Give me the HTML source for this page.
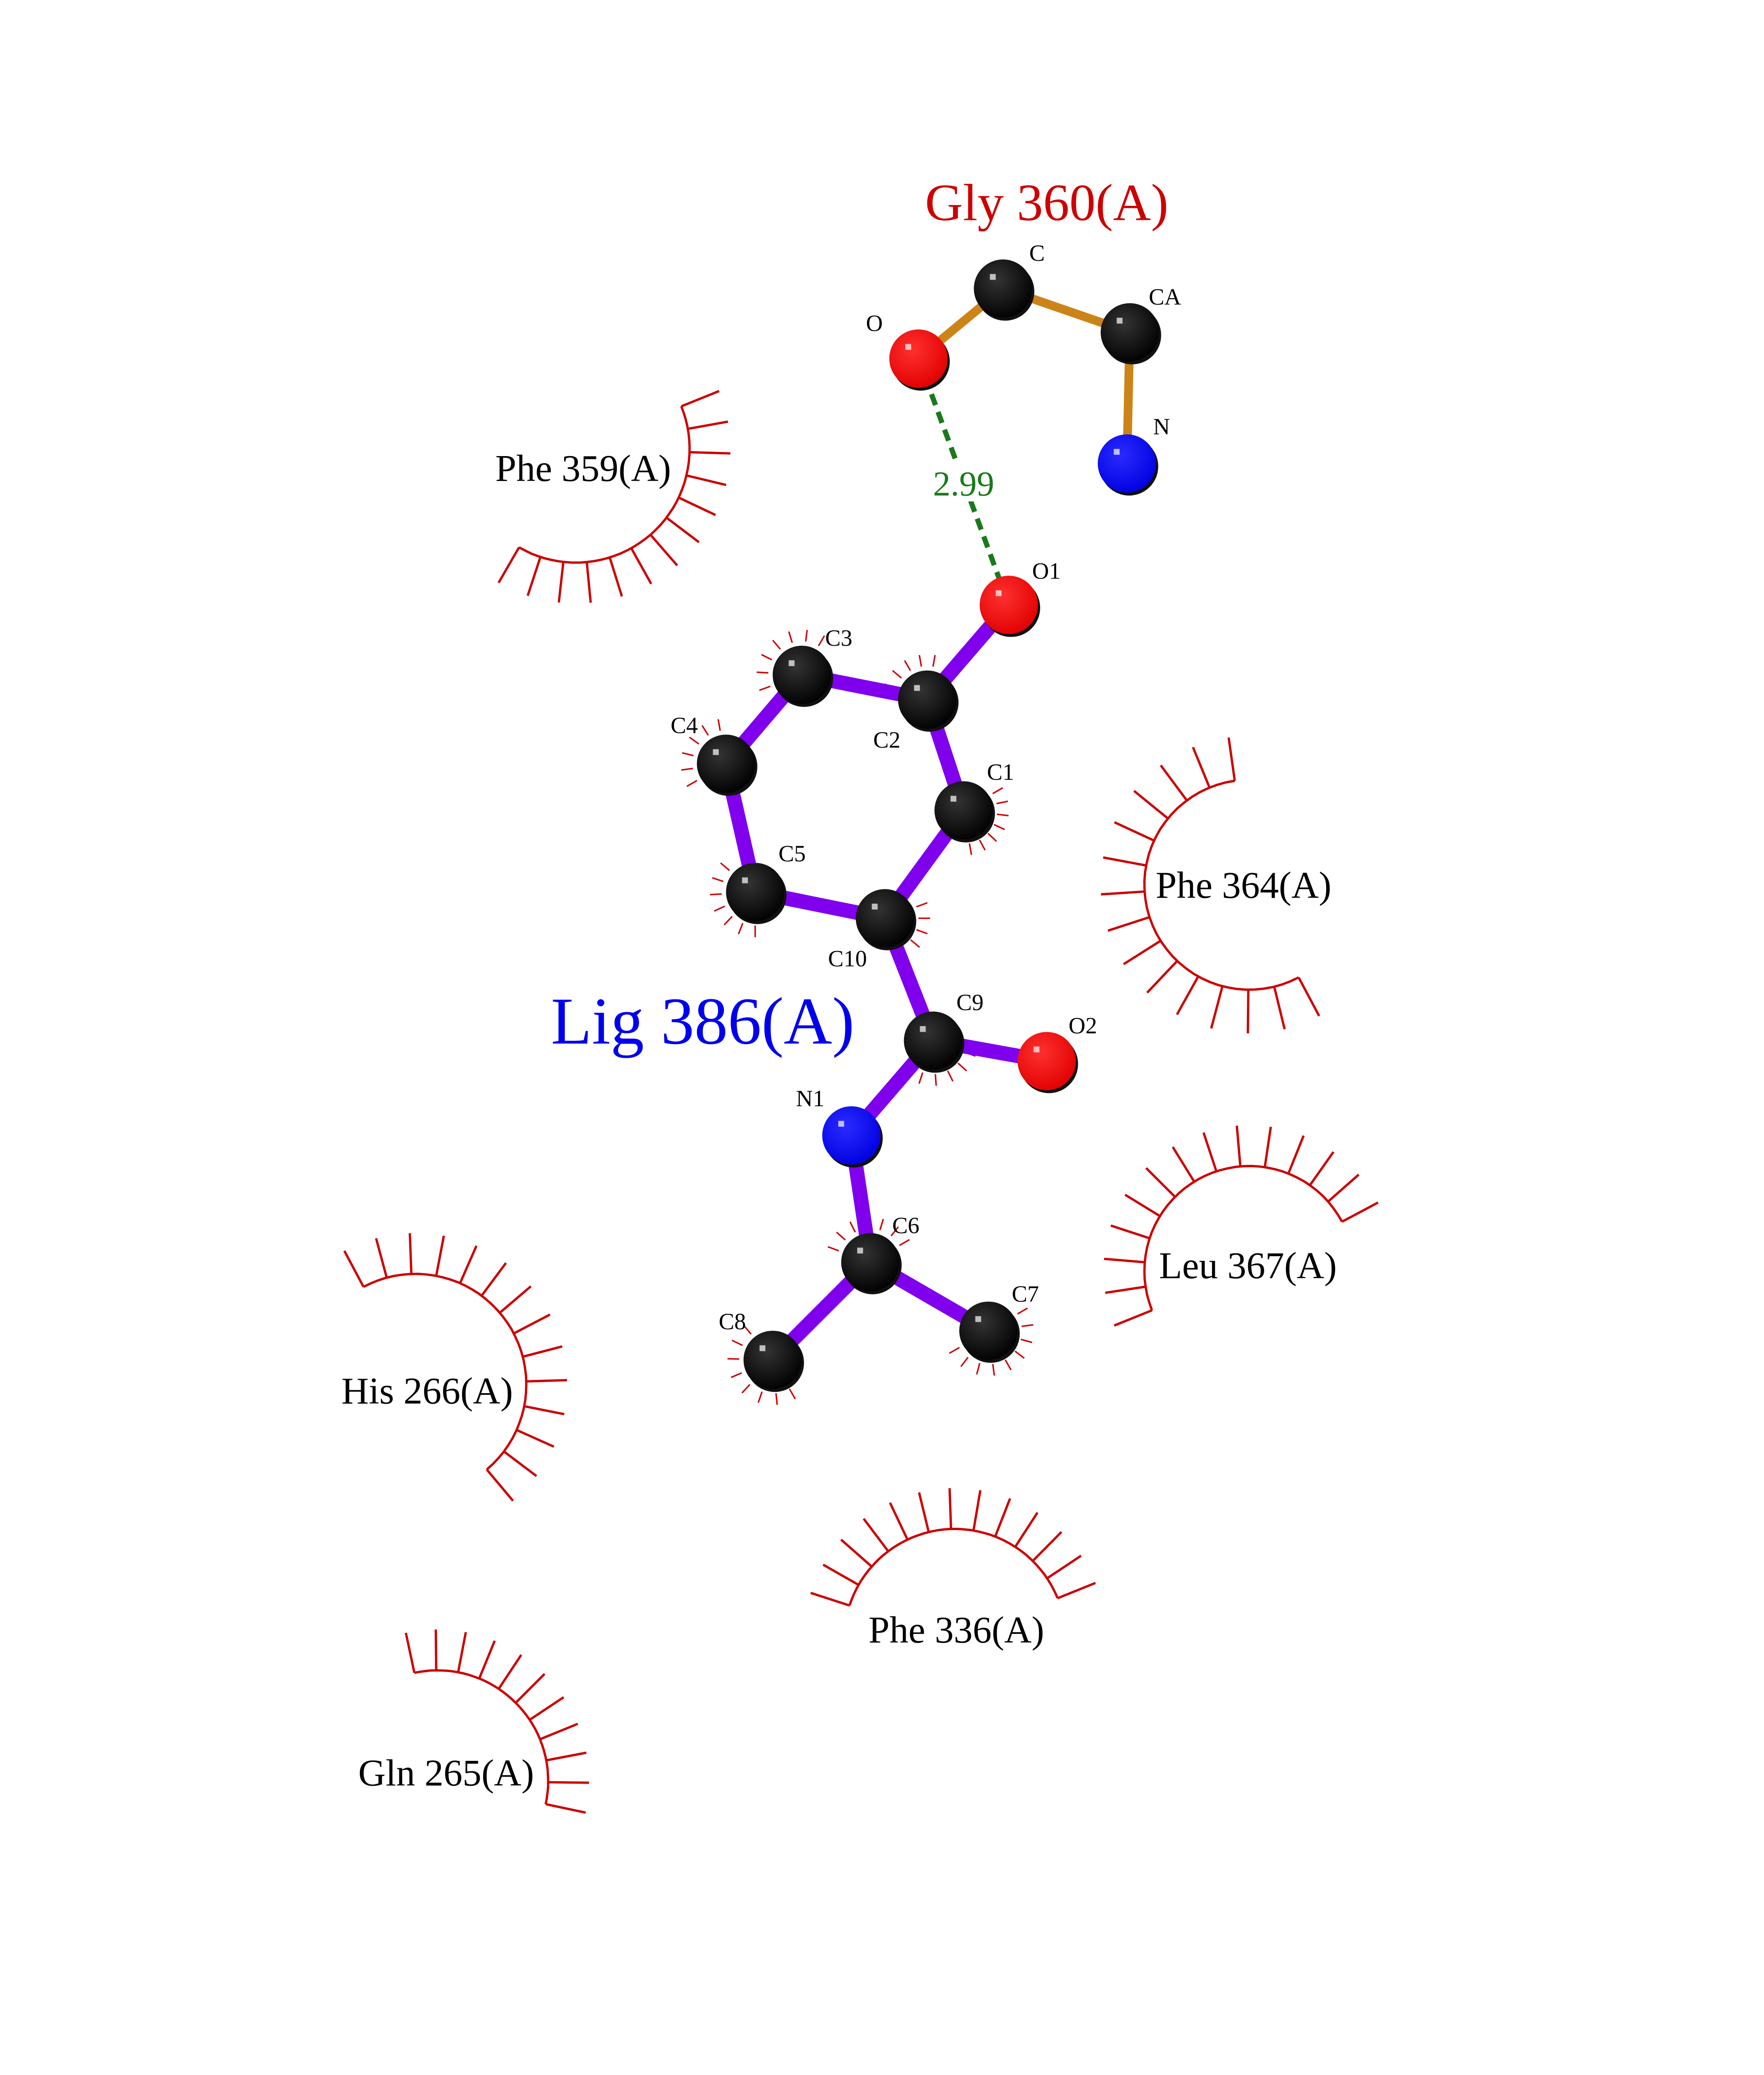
<!DOCTYPE html>
<html><head><meta charset="utf-8">
<style>
html,body{margin:0;padding:0;background:#fff;width:4250px;height:5500px;overflow:hidden;}
svg{display:block;position:absolute;left:0;top:0;overflow:hidden;}
text{font-family:"Liberation Serif",serif;}
</style></head>
<body>
<svg id="s" xmlns="http://www.w3.org/2000/svg" width="4250" height="5500" viewBox="0 0 1210 1566">
<defs>
<radialGradient id="gk" cx="0.4" cy="0.35" r="0.7"><stop offset="0" stop-color="#333"/><stop offset="1" stop-color="#000"/></radialGradient>
<radialGradient id="gr" cx="0.4" cy="0.35" r="0.7"><stop offset="0" stop-color="#ff3030"/><stop offset="1" stop-color="#e00000"/></radialGradient>
<radialGradient id="gb" cx="0.4" cy="0.35" r="0.7"><stop offset="0" stop-color="#2a2aff"/><stop offset="1" stop-color="#0000e0"/></radialGradient>
</defs>
<rect width="1210" height="1566" fill="#fff"/>
<g id="arcs" stroke="#cc0000" stroke-width="1.6" fill="none"></g>
<g stroke="#cc8418" stroke-width="6" stroke-linecap="round">
<line x1="630" y1="246" x2="688" y2="198"/>
<line x1="688" y1="198" x2="775" y2="228"/>
<line x1="775" y1="228" x2="773" y2="318"/>
</g>
<line x1="630" y1="246" x2="692" y2="415" stroke="#1a7a1a" stroke-width="3.5" stroke-dasharray="8,5"/>
<rect x="636" y="318" width="52" height="26" fill="#fff"/>
<text x="661" y="340" font-size="24" fill="#1a7a1a" text-anchor="middle">2.99</text>
<g stroke="#8000ee" stroke-width="10" stroke-linecap="round">
<line x1="692" y1="415" x2="636" y2="480"/>
<line x1="636" y1="480" x2="550" y2="463"/>
<line x1="550" y1="463" x2="498" y2="524"/>
<line x1="498" y1="524" x2="518" y2="612"/>
<line x1="518" y1="612" x2="607" y2="630"/>
<line x1="607" y1="630" x2="661" y2="556"/>
<line x1="661" y1="556" x2="636" y2="480"/>
<line x1="607" y1="630" x2="640" y2="714"/>
<line x1="640" y1="714" x2="718" y2="728"/>
<line x1="640" y1="714" x2="584" y2="779"/>
<line x1="584" y1="779" x2="597" y2="866"/>
<line x1="597" y1="866" x2="678" y2="913"/>
<line x1="597" y1="866" x2="530" y2="933"/>
</g>
<g id="atoms"></g>
<g font-size="16" fill="#000">
<text x="706" y="179">C</text><text x="788" y="209">CA</text><text x="594" y="227">O</text><text x="791" y="298">N</text>
<text x="708" y="397">O1</text><text x="566" y="443">C3</text><text x="599" y="513">C2</text><text x="460" y="503">C4</text>
<text x="677" y="535">C1</text><text x="534" y="591">C5</text><text x="568" y="663">C10</text><text x="656" y="693">C9</text>
<text x="733" y="709">O2</text><text x="546" y="759">N1</text><text x="612" y="846">C6</text><text x="694" y="893">C7</text><text x="493" y="912">C8</text>
</g>
<text x="718" y="151" font-size="36" fill="#cc0000" text-anchor="middle">Gly 360(A)</text>
<text x="482" y="716" font-size="46" fill="#0000ee" text-anchor="middle">Lig 386(A)</text>
<g font-size="26" fill="#000" text-anchor="middle">
<text x="400" y="330">Phe 359(A)</text>
<text x="853" y="616">Phe 364(A)</text>
<text x="856" y="877">Leu 367(A)</text>
<text x="293" y="963">His 266(A)</text>
<text x="656" y="1127">Phe 336(A)</text>
<text x="306" y="1225">Gln 265(A)</text>
</g>
<text x="58" y="1470" font-size="14">.</text>
</svg>
<script>
var NS="http://www.w3.org/2000/svg";
function el(p,t,a){var e=document.createElementNS(NS,t);for(var k in a)e.setAttribute(k,a[k]);p.appendChild(e);return e;}
var arcs=document.getElementById('arcs');
function fan(cx,cy,r,a0,a1,n,len){
 var d="",N=40;
 for(var i=0;i<=N;i++){var a=(a0+(a1-a0)*i/N)*Math.PI/180;d+=(i?"L":"M")+(cx+r*Math.cos(a)).toFixed(1)+","+(cy+r*Math.sin(a)).toFixed(1);}
 el(arcs,'path',{d:d});
 for(var j=0;j<n;j++){var a=(a0+(a1-a0)*j/(n-1))*Math.PI/180,c=Math.cos(a),s=Math.sin(a);
  el(arcs,'line',{x1:cx+r*c,y1:cy+r*s,x2:cx+(r+len)*c,y2:cy+(r+len)*s});}
}
fan(395,308,78,-22,120,13,28);
fan(857,607,72,62,262,15,30);
fan(857,872,72,158,332,14,28);
fan(285,950,76,-118,50,14,28);
fan(655,1125,76,198,338,13,28);
fan(300,1222,76,-102,12,11,28);
function tick(cx,cy,a0,a1,n){for(var j=0;j<n;j++){var a=(a0+(a1-a0)*j/(n-1))*Math.PI/180,c=Math.cos(a),s=Math.sin(a);
 el(arcs,'line',{x1:cx+23*c,y1:cy+23*s,x2:cx+31*c,y2:cy+31*s,'stroke-width':1});}}
tick(550,463,160,300,7);tick(498,524,150,260,6);tick(518,612,90,220,7);tick(607,630,-20,60,5);
tick(661,556,-30,80,7);tick(636,480,200,280,5);tick(640,714,20,130,6);tick(597,866,200,330,7);
tick(678,913,-30,150,9);tick(530,933,60,230,8);
var atoms=document.getElementById('atoms');
var A=[[688,198,'k'],[775,228,'k'],[630,246,'r'],[773,318,'b'],[692,415,'r'],[636,480,'k'],[550,463,'k'],[498,524,'k'],[518,612,'k'],[607,630,'k'],[661,556,'k'],[640,714,'k'],[718,728,'r'],[584,779,'b'],[597,866,'k'],[678,913,'k'],[530,933,'k']];
A.forEach(function(p){el(atoms,'circle',{cx:p[0]+1.5,cy:p[1]+2,r:20,fill:'#111'});el(atoms,'circle',{cx:p[0],cy:p[1],r:20,fill:'url(#g'+p[2]+')'});
 el(atoms,'rect',{x:p[0]-9,y:p[1]-10,width:4,height:4,fill:'#fff','fill-opacity':0.7});});
</script>
</body></html>
